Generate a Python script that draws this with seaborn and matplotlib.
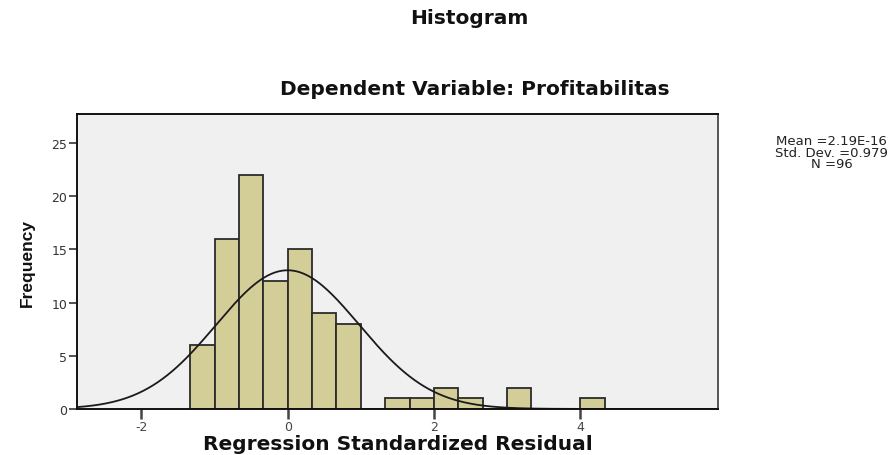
import numpy as np
import matplotlib
matplotlib.use("Agg")
import matplotlib.pyplot as plt
import seaborn as sns

# Histogram data (bin width = 1/3)
bin_edges = [-4/3, -1, -2/3, -1/3, 0, 1/3, 2/3, 1, 4/3, 5/3, 2, 7/3, 8/3, 3, 10/3, 11/3, 4, 13/3]
counts = [6, 16, 22, 12, 15, 9, 8, 0, 1, 1, 2, 1, 0, 2, 0, 0, 1]
x_ticks = [-2, 0, 2, 4]
y_ticks = [0, 5, 10, 15, 20, 25]

# summary statistics shown in the chart
mean_val = 2.19e-16
std_val = 0.979
n_obs = 96

centers = [(bin_edges[i] + bin_edges[i + 1]) / 2 for i in range(len(counts))]

sns.set_style("white")
plt.rcParams['font.family'] = ['DejaVu Sans']
plt.rcParams['axes.unicode_minus'] = False

fig = plt.figure(figsize=(8.96, 4.56), dpi=100)
ax = fig.add_axes([0.086, 0.101, 0.715, 0.646])
ax.set_facecolor("#f0f0f0")

sns.histplot(x=centers, weights=counts, bins=bin_edges, ax=ax,
             color="#d3ce97", alpha=1, edgecolor="#2b2b2b", linewidth=1.3)

# fitted normal curve
bw = 1 / 3
xs = np.linspace(-2.88, 5.88, 400)
ys = n_obs * bw * np.exp(-0.5 * ((xs - mean_val) / std_val) ** 2) / (std_val * np.sqrt(2 * np.pi))
ax.plot(xs, ys, color="#1a1a1a", linewidth=1.3)

ax.set_xlim(-2.88, 5.88)
ax.set_ylim(0, 27.7)
ax.set_xticks(x_ticks)
ax.set_yticks(y_ticks)
ax.tick_params(axis='both', direction='out', length=6, width=1.2, colors="#333333",
               labelsize=9, labelcolor="#333333", pad=1, bottom=True, left=True)
ax.tick_params(axis='x', width=1.8, length=7, colors="#444444")
for s in ax.spines.values():
    s.set_color("#111111")
    s.set_linewidth(1.4)
ax.spines['right'].set_color("#555555")

ax.set_xlabel("Regression Standardized Residual", fontsize=14.5, fontweight='bold', labelpad=1,
              color="#111111")
ax.set_ylabel("Frequency", fontsize=12.5, fontweight='bold', labelpad=12, color="#111111",
              family=['Liberation Sans Narrow', 'Liberation Sans', 'DejaVu Sans'])

fig.text(0.524, 0.96, "Histogram", ha='center', va='center', fontsize=14.5, fontweight='bold',
         color="#111111")
fig.text(0.530, 0.803, "Dependent Variable: Profitabilitas", ha='center', va='center',
         fontsize=14.5, fontweight='bold', color="#111111")
fig.text(0.928, 0.664, "Mean =%.2E\nStd. Dev. =%.3f\nN =%d" % (mean_val, std_val, n_obs),
         ha='center', va='center', fontsize=9.5, linespacing=0.85, multialignment='center',
         color="#222222")

fig.savefig("out.png", dpi=100)
